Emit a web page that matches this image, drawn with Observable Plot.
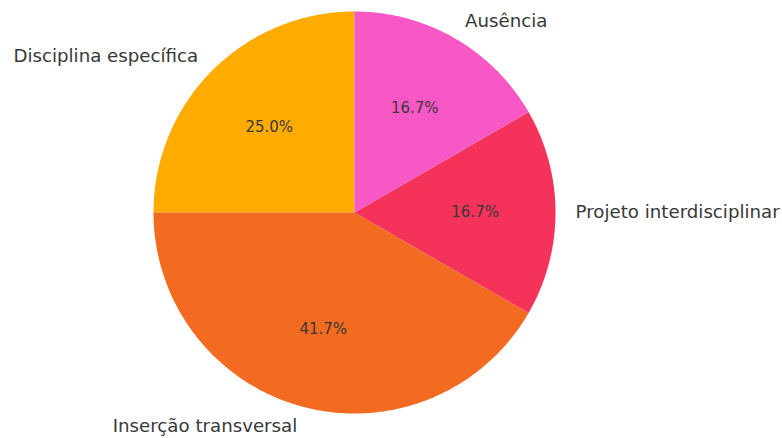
<!DOCTYPE html>
<html>
<head>
<meta charset="utf-8">
<script src="https://cdn.jsdelivr.net/npm/d3@7"></script>
<script src="https://cdn.jsdelivr.net/npm/@observablehq/plot@0.6"></script>
<style>
  html, body { margin: 0; padding: 0; background: #fff; }
  #chart svg { display: block; }
</style>
</head>
<body>
<div id="chart"></div>
<script>
const categories = ["Disciplina específica", "Inserção transversal", "Projeto interdisciplinar", "Ausência"];
const values = [3, 5, 2, 2];
const colors = ["#FFAB00", "#F26B21", "#F5335A", "#F858C6"];

const total = d3.sum(values);
const startAngle = 90; // degrees, counterclockwise
const slices = [];
let a = startAngle;
categories.forEach((c, i) => {
  const span = values[i] / total * 360;
  slices.push({cat: c, a0: a, a1: a + span, mid: a + span / 2, pct: values[i] / total});
  a += span;
});
const rad = d => d * Math.PI / 180;

const poly = [];
slices.forEach(s => {
  poly.push({cat: s.cat, x: 0, y: 0});
  const n = 200;
  for (let k = 0; k <= n; k++) {
    const t = rad(s.a0 + (s.a1 - s.a0) * k / n);
    poly.push({cat: s.cat, x: Math.cos(t), y: Math.sin(t)});
  }
  poly.push({cat: s.cat, x: 0, y: 0});
});

const labels = slices.map(s => ({
  cat: s.cat,
  x: 1.1 * Math.cos(rad(s.mid)),
  y: 1.1 * Math.sin(rad(s.mid)),
  px: 0.6 * Math.cos(rad(s.mid)),
  py: 0.6 * Math.sin(rad(s.mid)),
  pctText: (s.pct * 100).toFixed(1) + "%"
}));

const W = 782, H = 438, cx = 354, cy = 212, R = 201;

const chart = Plot.plot({
  width: W,
  height: H,
  margin: 0,
  x: {domain: [-cx / R, (W - cx) / R], axis: null},
  y: {domain: [-(H - cy) / R, cy / R], axis: null},
  color: {domain: categories, range: colors},
  style: {fontFamily: "DejaVu Sans", fontSize: "14px", background: "#fff"},
  marks: [
    Plot.line(poly, {x: "x", y: "y", z: "cat", fill: "cat", stroke: "none", curve: "linear"}),
    Plot.text(labels.filter(d => d.x >= 0), {x: "x", y: "y", text: "cat", textAnchor: "start", fill: "#383838", fontSize: 18.2}),
    Plot.text(labels.filter(d => d.x < 0), {x: "x", y: "y", text: "cat", textAnchor: "end", fill: "#383838", fontSize: 18.2}),
    Plot.text(labels, {x: "px", y: "py", text: "pctText", fill: "#383838", fontSize: 15})
  ]
});
document.getElementById("chart").appendChild(chart);
</script>
</body>
</html>
